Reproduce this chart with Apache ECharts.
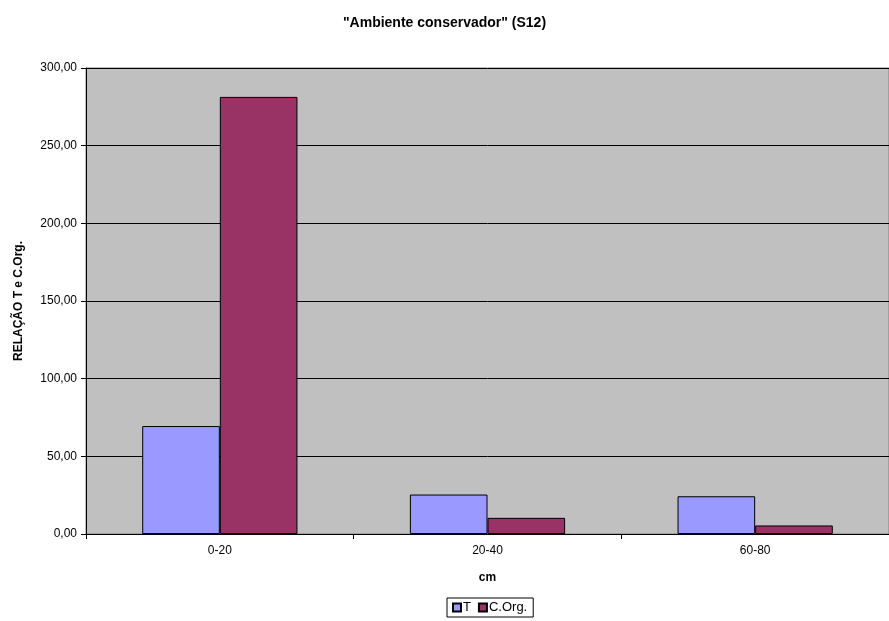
<!DOCTYPE html>
<html><head><meta charset="utf-8">
<script src="https://cdn.jsdelivr.net/npm/echarts@6/dist/echarts.min.js"></script>
<style>html,body{margin:0;padding:0;background:#fff}#c{width:889px;height:621px}</style>
</head><body><div id="c"></div>
<script>
var categories = ['0-20', '20-40', '60-80'];
var seriesT = [69.5, 25.4, 24.3];
var seriesCOrg = [281.4, 10.4, 5.5];
var yTicks = [0, 50, 100, 150, 200, 250, 300];

var chart = echarts.init(document.getElementById('c'));
var font = 'Liberation Sans, Arial, sans-serif';
chart.setOption({
  animation: false,
  title: {text: '"Ambiente conservador" (S12)', left: 'center', top: 11,
    textStyle: {fontFamily: font, fontSize: 14, fontWeight: 'bold', color: '#000'}},
  legend: {top: 598, left: 447, itemWidth: 8, itemHeight: 8, itemGap: 7,
    padding: [3, 6, 3, 5], borderColor: '#000', borderWidth: 1, borderRadius: 0,
    icon: 'rect',
    textStyle: {fontFamily: font, fontSize: 13, color: '#000', padding: [0, 0, 0, -3]},
    data: ['T', 'C.Org.']},
  grid: {left: 86, right: 0, top: 68, bottom: 87, show: true, backgroundColor: '#c0c0c0',
    borderColor: '#808080', borderWidth: 1},
  xAxis: {type: 'category', data: categories, name: 'cm', nameLocation: 'middle', nameGap: 38,
    nameTextStyle: {fontFamily: font, fontSize: 12, fontWeight: 'bold', color: '#000'},
    axisLine: {lineStyle: {color: '#000'}},
    axisTick: {show: true, length: 5, lineStyle: {color: '#000'}},
    axisLabel: {fontFamily: font, fontSize: 12, color: '#000', margin: 11}},
  yAxis: {type: 'value', min: yTicks[0], max: yTicks[yTicks.length - 1], interval: 50,
    name: 'RELAÇÃO T e C.Org.', nameLocation: 'middle', nameGap: 61,
    nameTextStyle: {fontFamily: font, fontSize: 12, fontWeight: 'bold', color: '#000'},
    axisLine: {show: true, lineStyle: {color: '#000'}},
    axisTick: {show: true, length: 5, lineStyle: {color: '#000'}},
    splitLine: {show: true, lineStyle: {color: '#000', width: 1}},
    axisLabel: {fontFamily: font, fontSize: 12, color: '#000', margin: 9,
      formatter: function (v) { return v.toFixed(2).replace('.', ','); }}},
  series: [
    {name: 'T', type: 'bar', data: seriesT, barGap: '0%', barCategoryGap: '42%',
      itemStyle: {color: '#9999ff', borderColor: '#000', borderWidth: 1}},
    {name: 'C.Org.', type: 'bar', data: seriesCOrg,
      itemStyle: {color: '#993366', borderColor: '#000', borderWidth: 1}}
  ]
});
</script></body></html>
